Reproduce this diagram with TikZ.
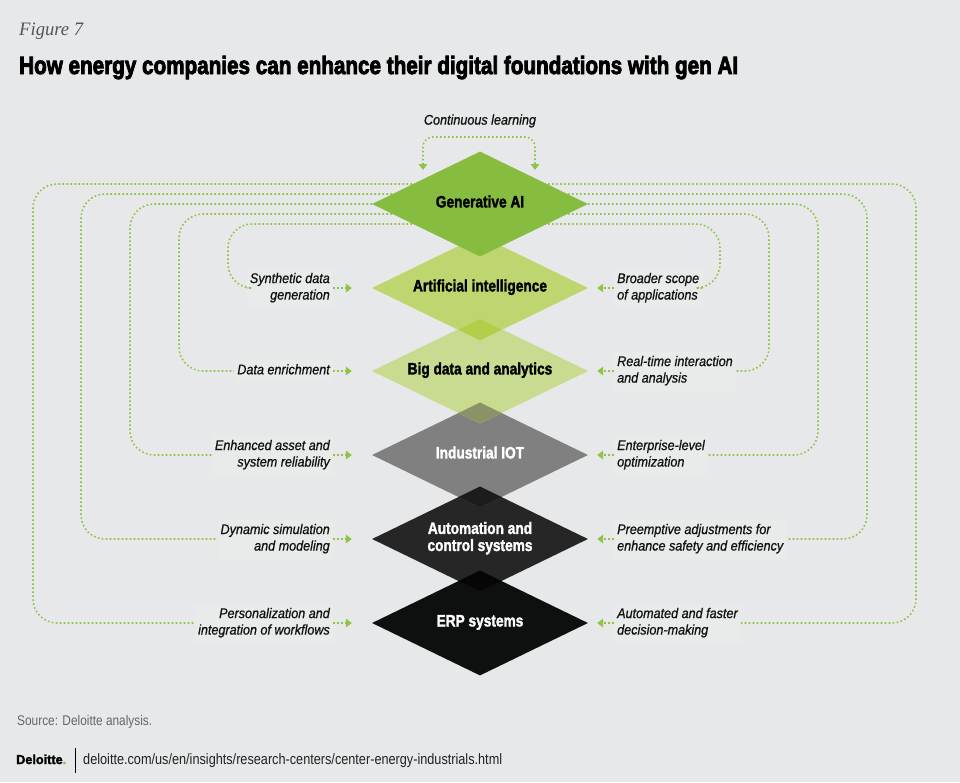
\documentclass[tikz,border=0pt]{standalone}
\usepackage{fontspec}
\setmainfont{Liberation Sans}
\newfontfamily\serifit{Liberation Serif}
\newfontfamily\titlefont{Liberation Sans}[FakeBold=3.5]
\newfontfamily\diafont{Liberation Sans}[FakeBold=2]
\newfontfamily\labfont{Liberation Sans}[FakeBold=0.8]
\newfontfamily\logofont{Liberation Sans}[FakeBold=2]
\usepackage{graphicx}
\usetikzlibrary{shapes.geometric,arrows.meta}
\definecolor{bg}{HTML}{E7E8E9}
\definecolor{labbg}{HTML}{E9EAEA}
\definecolor{lg}{HTML}{8DC445}
\definecolor{cgen}{HTML}{86BC40}
\definecolor{cai}{HTML}{BFD56F}
\definecolor{cbd}{HTML}{C9DB90}
\definecolor{oaibd}{HTML}{B4CE4B}
\definecolor{ciot}{HTML}{808080}
\definecolor{obdiot}{HTML}{8A9268}
\definecolor{cauto}{HTML}{262626}
\definecolor{oiotauto}{HTML}{1C1C1C}
\definecolor{cerp}{HTML}{0E0F0F}
\definecolor{oautoerp}{HTML}{060606}
\definecolor{figgray}{HTML}{555555}
\definecolor{srcgray}{HTML}{666666}
\definecolor{urlc}{HTML}{222222}
\definecolor{labtext}{HTML}{111111}
\newcommand\fitw[2]{\resizebox{#1}{\height}{#2}}
\newcommand\lblR[1]{\scalebox{0.9}[1]{\begin{tabular}{@{}r@{}}#1\end{tabular}}}
\newcommand\lblL[1]{\scalebox{0.9}[1]{\begin{tabular}{@{}l@{}}#1\end{tabular}}}
\newcommand\dtext[1]{\scalebox{0.83}[1]{\begin{tabular}{@{}c@{}}#1\end{tabular}}}
\newcommand\ovl[2]{\fill[#2] (480,#1-10.5) -- (501.6,#1) -- (480,#1+10.5) -- (458.4,#1) -- cycle;}
\tikzset{
  flow/.style={draw=lg, line width=1.6pt, dash pattern=on 1.6pt off 2.4pt},
  tipend/.style={-{Triangle[length=6pt,width=8.5pt]}},
  loopline/.style={flow, rounded corners=24pt},
  dia/.style={diamond, aspect=2.057, minimum width=216pt, minimum height=105pt, inner sep=0pt,
    font=\diafont\fontsize{16.5pt}{17pt}\selectfont\bfseries},
  labL/.style={anchor=east, inner sep=3pt, fill=labbg, text=labtext, font=\labfont\fontsize{14pt}{16.5pt}\selectfont\itshape},
  labR/.style={anchor=west, inner sep=3pt, fill=labbg, text=labtext, font=\labfont\fontsize{14pt}{16.5pt}\selectfont\itshape},
}
\begin{document}
\begin{tikzpicture}[x=1pt,y=-1pt]
\useasboundingbox (0,0) rectangle (960,782);
\fill[bg] (0,0) rectangle (960,782);

% headings
\node[anchor=base west, inner sep=0, text=figgray, font=\serifit\itshape\fontsize{19pt}{22pt}\selectfont] (fig) at (19,35) {\fitw{64pt}{Figure 7}};
\node[anchor=base west, inner sep=0, font=\titlefont\fontsize{25pt}{28pt}\selectfont\bfseries] (title) at (19,74) {\fitw{719pt}{How energy companies can enhance their digital foundations with gen AI}};

% diamond position (coordinate for loops)
\coordinate (g0) at (480,204);

% side labels
\node[labL] (l1) at (333,288) {\lblR{Synthetic data\\generation}};
\node[labL] (l2) at (333,371) {\lblR{Data enrichment}};
\node[labL] (l3) at (333,455) {\lblR{Enhanced asset and\\system reliability}};
\node[labL] (l4) at (333,539) {\lblR{Dynamic simulation\\and modeling}};
\node[labL] (l5) at (333,623) {\lblR{Personalization and\\integration of workflows}};
\node[labR] (r1) at (614,288) {\lblL{Broader scope\\of applications}};
\node[labR] (r2) at (614,371) {\lblL{Real-time interaction\\and analysis}};
\node[labR] (r3) at (614,455) {\lblL{Enterprise-level\\optimization}};
\node[labR] (r4) at (614,539) {\lblL{Preemptive adjustments for\\enhance safety and efficiency}};
\node[labR] (r5) at (614,623) {\lblL{Automated and faster\\decision-making}};

% loops (drawn before the diamonds)
\draw[loopline] ([yshift=20pt]g0) -- ++(-447,0) |- (l5.west);
\draw[loopline] ([yshift=10pt]g0) -- ++(-399,0) |- (l4.west);
\draw[loopline] (g0) -- ++(-350,0) |- (l3.west);
\draw[loopline] ([yshift=-10pt]g0) -- ++(-301,0) |- (l2.west);
\draw[loopline] ([yshift=-20pt]g0) -- ++(-252,0) |- (l1.west);
\draw[loopline] ([yshift=20pt]g0) -- ++(436,0) |- (r5.east);
\draw[loopline] ([yshift=10pt]g0) -- ++(387,0) |- (r4.east);
\draw[loopline] (g0) -- ++(338,0) |- (r3.east);
\draw[loopline] ([yshift=-10pt]g0) -- ++(289,0) |- (r2.east);
\draw[loopline] ([yshift=-20pt]g0) -- ++(240,0) |- (r1.east);

% diamonds
\node[dia, fill=cerp, text=white] (erp) at (480,623) {\dtext{ERP systems}};
\node[dia, fill=cauto, text=white] (auto) at (480,539) {\dtext{Automation and\\control systems}};
\node[dia, fill=ciot, text=white] (iot) at (480,455) {\dtext{Industrial IOT}};
\node[dia, fill=cbd] (bd) at (480,371) {\dtext{Big data and analytics}};
\node[dia, fill=cai] (ai) at (480,288) {\dtext{Artificial intelligence}};
\node[dia, fill=cgen] (gen) at (g0) {\dtext{Generative AI}};

% overlaps
\ovl{329.5}{oaibd}
\ovl{413}{obdiot}
\ovl{497}{oiotauto}
\ovl{581}{oautoerp}

% arrows into diamonds
\draw[flow, tipend, shorten >=20pt] (l1.east) -- (ai.west);
\draw[flow, tipend, shorten >=20pt] (l2.east) -- (bd.west);
\draw[flow, tipend, shorten >=20pt] (l3.east) -- (iot.west);
\draw[flow, tipend, shorten >=20pt] (l4.east) -- (auto.west);
\draw[flow, tipend, shorten >=20pt] (l5.east) -- (erp.west);
\draw[flow, tipend, shorten >=9pt] (r1.west) -- (ai.east);
\draw[flow, tipend, shorten >=9pt] (r2.west) -- (bd.east);
\draw[flow, tipend, shorten >=9pt] (r3.west) -- (iot.east);
\draw[flow, tipend, shorten >=9pt] (r4.west) -- (auto.east);
\draw[flow, tipend, shorten >=9pt] (r5.west) -- (erp.east);

% continuous learning
\node[inner sep=0, text=labtext, font=\labfont\fontsize{14pt}{16.5pt}\selectfont\itshape] (cl) at (480,121) {\scalebox{0.9}[1]{Continuous learning}};
\coordinate (cla) at (423,170);
\coordinate (clb) at (535,170);
\coordinate (clt) at (480,137);
\draw[flow, rounded corners=10pt, {Triangle[length=6pt,width=8.5pt]}-{Triangle[length=6pt,width=8.5pt]}] (cla) |- (clt) -| (clb);

% footer
\node[anchor=base west, inner sep=0, text=srcgray, font=\fontsize{14pt}{16pt}\selectfont] (src) at (17,725) {\fitw{135pt}{Source: Deloitte analysis.}};
\node[anchor=base west, inner sep=0, font=\logofont\fontsize{13pt}{15pt}\selectfont\bfseries] (logo) at (16,764) {\fitw{50pt}{Deloitte\textcolor{cgen}{.}}};
\coordinate (sepa) at (75,748);
\coordinate (sepb) at (75,773);
\draw[line width=1pt, black] (sepa) -- (sepb);
\node[anchor=base west, inner sep=0, text=urlc, font=\fontsize{15pt}{17pt}\selectfont] (url) at (83,764) {\fitw{419pt}{deloitte.com/us/en/insights/research-centers/center-energy-industrials.html}};
\end{tikzpicture}
\end{document}
